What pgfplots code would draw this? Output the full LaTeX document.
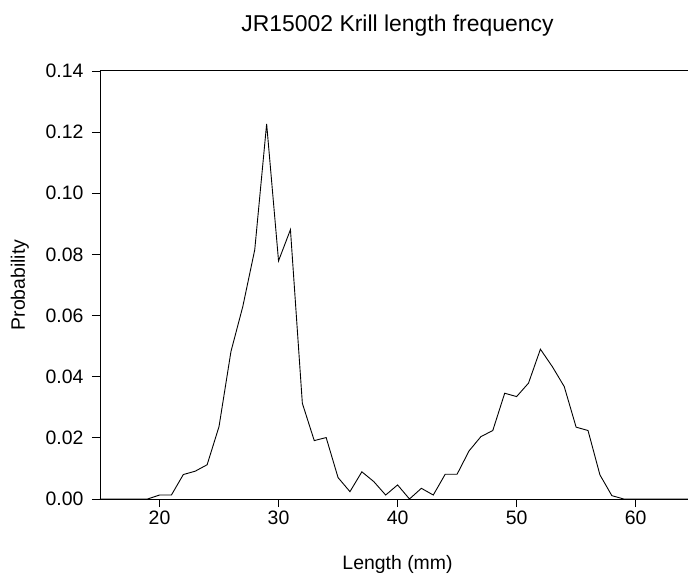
\documentclass[border=0pt]{standalone}
\usepackage{pgfplots}
\pgfplotsset{compat=1.18}
\usepackage{fontspec}
\setmainfont{Liberation Sans}
\begin{document}
\begin{tikzpicture}
\begin{axis}[
  scale only axis,
  width=588bp, height=428bp,
  xmin=15, xmax=64.4,
  ymin=0, ymax=0.14,
  axis x line=box,
  axis y line=left,
  axis line style={line width=1pt, -},
  xtick={20,30,40,50,60},
  ytick={0,0.02,0.04,0.06,0.08,0.10,0.12,0.14},
  tick align=outside,
  major tick length=8bp,
  tick style={line width=0.9pt, black},
  xtick pos=bottom, ytick pos=left,
  /pgf/number format/assume math mode=true,
  yticklabel style={/pgf/number format/fixed, /pgf/number format/fixed zerofill, /pgf/number format/precision=2, xshift=-5bp},
  scaled y ticks=false,
  tick label style={font=\fontsize{19.5}{21}\selectfont},
  label style={font=\fontsize{19.5}{21}\selectfont},
  title style={font=\fontsize{23}{25}\selectfont, at={(axis description cs:0.506,1)}, anchor=base, yshift=34bp},
  title={JR15002 Krill length frequency},
  xlabel={Length (mm)},
  xlabel style={at={(axis description cs:0.506,0)}, anchor=base, yshift=-70bp},
  ylabel={Probability},
  ylabel style={at={(axis description cs:-0.1276,0.5)}, anchor=base},
  clip=true,
]
\addplot[black, line width=0.9pt] coordinates {
(15,0) (16,0) (17,0) (18,0) (19,0)
(20,0.0013) (21,0.0013) (22,0.0080) (23,0.0091) (24,0.0112)
(25,0.0237) (26,0.0482) (27,0.0630) (28,0.0815) (29,0.1227)
(30,0.0779) (31,0.0881) (32,0.0313) (33,0.0191) (34,0.0201)
(35,0.0070) (36,0.0024) (37,0.0089) (38,0.0057) (39,0.0013)
(40,0.0046) (41,0.0000) (42,0.0035) (43,0.0013) (44,0.0081)
(45,0.0081) (46,0.0157) (47,0.0204) (48,0.0224) (49,0.0346)
(50,0.0335) (51,0.0379) (52,0.0490) (53,0.0433) (54,0.0368)
(55,0.0235) (56,0.0224) (57,0.0079) (58,0.0011) (59,0)
(60,0) (61,0) (62,0) (63,0) (64,0) (65,0)
};
\end{axis}
\pgfresetboundingbox
\path (current axis.south west) ++(-100bp,-79bp) coordinate (bl);
\path (current axis.north east) ++(0bp,71bp) coordinate (tr);
\useasboundingbox (bl) rectangle (tr);
\end{tikzpicture}
\end{document}
